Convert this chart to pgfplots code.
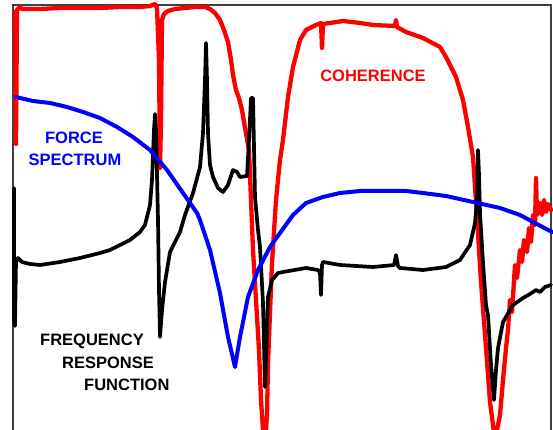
\documentclass[border=0pt]{standalone}
\usepackage{pgfplots}
\pgfplotsset{compat=1.18}
\usepackage{fontspec}
\setmainfont{Liberation Sans}
\begin{document}
\begin{tikzpicture}
\begin{axis}[
  scale only axis, width=553pt, height=430pt,
  xmin=0, xmax=553, ymin=0, ymax=430, y dir=reverse,
  hide axis, clip=true,
  every axis plot/.append style={no markers, line join=round, line cap=round},
]
% picture extent = axis box
\path[draw=none] (rel axis cs:0,0) rectangle (rel axis cs:1,1);
% frame (left, top, right)
\draw[black!75, line width=1.4pt] (axis cs:13,432) -- (axis cs:13,5) -- (axis cs:551,5) -- (axis cs:551,432);
% coherence
\addplot[red, line width=4.3pt] coordinates {
(15,12) (16,144) (17,10) (20,7) (22,9) (40,9) (60,8) (80,8) (100,8) (120,7) (140,7) (150,6) (155,4) (157,8) (159,60) (160,168) (161,120) (162,20) (164,14) (168,11) (175,9) (185,8) (195,7) (205,7) (210,9) (215,13) (220,20) (224,30) (228,42) (231,60) (233,75) (236,90) (239,98) (242,110) (245,128) (249,150) (251,200) (253,250) (256,300) (259,350) (261,400) (263,430) (265,445) (267,415) (268,363) (272,263) (276,200) (280,160) (283,140) (288,97) (293,67) (300,40) (306,30) (316,25) (321,23) (322,48) (323,24) (330,23) (343,21) (360,23) (373,25) (395,26) (396,20) (397,27) (406,32) (423,38) (440,47) (446,57) (456,77) (463,100) (468,127) (473,157) (475,187) (477,215) (479,250) (481,282) (486,348) (490,402) (493,425) (495,440) (498,425) (500,415) (503,380) (506,348) (508,330) (510,300) (512,312) (515,265) (517,278) (520,250) (522,262) (524,240) (527,252) (529,228) (531,242) (533,215) (535,225) (536,178) (537,215) (540,203) (542,215) (544,200) (546,212) (548,204) (551,210)
};
% frequency response function
\addplot[black, line width=3.7pt] coordinates {
(14,188) (14,320) (15,326) (16,262) (18,258) (22,262) (30,264) (40,265) (60,262) (80,258) (100,253) (110,250) (120,245) (130,240) (140,232) (145,225) (150,205) (152,180) (154,130) (155,114) (156,130) (158,220) (159,290) (160,337) (162,310) (165,282) (170,252) (180,232) (185,215) (193,193) (200,167) (203,133) (205,80) (206,43) (207,80) (208,133) (210,165) (213,177) (218,188) (223,192) (228,185) (233,170) (237,172) (240,177) (247,176) (249,140) (251,98) (253,98) (255,197) (258,230) (260,247) (263,303) (265,387) (267,330) (268,297) (272,280) (278,273) (283,272) (306,268) (318,270) (320,273) (321,295) (322,265) (323,262) (340,265) (373,267) (394,265) (396,255) (398,266) (400,268) (423,270) (446,267) (460,260) (470,245) (475,223) (477,200) (478,150) (479,175) (480,213) (483,263) (486,305) (488,315) (491,365) (494,400) (496,370) (498,348) (503,322) (513,305) (523,298) (530,294) (536,290) (540,292) (545,287) (551,285)
};
% force spectrum
\addplot[blue, line width=4pt] coordinates {
(16,97) (33,101) (50,103) (67,107) (83,112) (100,118) (117,127) (133,137) (150,150) (167,170) (183,193) (197,213) (200,220) (210,250) (220,293) (228,337) (235,367) (240,337) (248,297) (258,270) (270,247) (280,233) (293,215) (306,203) (323,197) (340,193) (360,191) (383,191) (406,191) (423,193) (446,196) (473,202) (500,208) (520,215) (533,222) (552,232)
};
\begin{scope}[every node/.style={inner sep=0pt, font=\fontsize{16.5}{20}\selectfont\bfseries}]
\node[red, anchor=base] at (axis cs:373,82) {COHERENCE};
\node[blue, anchor=base] at (axis cs:74,144) {FORCE};
\node[blue, anchor=base] at (axis cs:75,166) {SPECTRUM};
\node[black, anchor=base west] at (axis cs:40,345) {FREQUENCY};
\node[black, anchor=base west] at (axis cs:62,368) {RESPONSE};
\node[black, anchor=base west] at (axis cs:84,390) {FUNCTION};
\end{scope}
\end{axis}
\end{tikzpicture}
\end{document}
